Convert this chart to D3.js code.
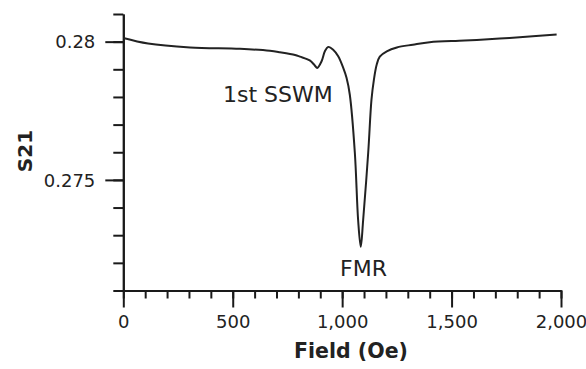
<!DOCTYPE html>
<html>
<head>
<meta charset="utf-8">
<script src="https://cdn.jsdelivr.net/npm/d3@7"></script>
<style>
  html, body { margin: 0; padding: 0; background: #fff; }
  svg { display: block; }
  text { font-family: "DejaVu Sans", Verdana, sans-serif; fill: #222; }
</style>
</head>
<body>
<svg id="chart" width="586" height="369"></svg>
<script>
// Transmission S21 versus applied field
const fieldOe = [0, 113, 305, 533, 670, 715, 785, 807, 852, 875, 886, 906, 921, 936, 959, 982,
                 1005, 1020, 1035, 1058, 1073, 1085, 1096, 1119, 1134, 1145, 1158, 1172, 1204,
                 1250, 1323, 1400, 1560, 1720, 1811, 1980];
const s21 = [0.28013, 0.27993, 0.27979, 0.27974, 0.27967, 0.27962, 0.27952, 0.27946, 0.27932,
             0.27914, 0.27905, 0.27929, 0.27965, 0.27981, 0.27971, 0.27947,
             0.27905, 0.27869, 0.27808, 0.27598, 0.27355, 0.27258, 0.27355, 0.27598, 0.27790,
             0.27862, 0.27917, 0.27946, 0.27965, 0.27979, 0.27989, 0.27998, 0.28004, 0.28011,
             0.28016, 0.28026];

const xMajorTicks = [0, 500, 1000, 1500, 2000];
const xMinorTicks = d3.range(0, 2001, 100);
const yMajorTicks = [0.275, 0.28];
const yMinorTicks = d3.range(0, 11).map(i => +(0.271 + i * 0.001).toFixed(3));

const annotations = [
  { text: "1st SSWM", x: 223, y: 102 },
  { text: "FMR", x: 340, y: 276 }
];

const svg = d3.select("#chart");

const x = d3.scaleLinear().domain([0, 2000]).range([123.3, 561]);
const y = d3.scaleLinear().domain([0.271, 0.281]).range([290.5, 14]);

const axisColor = "#1a1a1a";

// y axis: minor ticks, then labelled major ticks
const gyMinor = svg.append("g").attr("transform", `translate(${x(0)},0)`)
  .call(d3.axisLeft(y).tickValues(yMinorTicks).tickSize(10).tickSizeOuter(0).tickFormat(""));
const gyMajor = svg.append("g").attr("transform", `translate(${x(0)},0)`)
  .call(d3.axisLeft(y).tickValues(yMajorTicks).tickSize(18).tickSizeOuter(0).tickPadding(10)
    .tickFormat(d3.format("")));

// x axis: minor ticks, then labelled major ticks
const gxMinor = svg.append("g").attr("transform", `translate(0,${y(0.271)})`)
  .call(d3.axisBottom(x).tickValues(xMinorTicks).tickSize(8).tickSizeOuter(0).tickFormat(""));
const gxMajor = svg.append("g").attr("transform", `translate(0,${y(0.271)})`)
  .call(d3.axisBottom(x).tickValues(xMajorTicks).tickSize(17).tickSizeOuter(0).tickPadding(8)
    .tickFormat(d3.format(",")));

[gyMinor, gyMajor, gxMinor, gxMajor].forEach(g => {
  g.selectAll("path.domain").attr("stroke", axisColor).attr("stroke-width", 2);
  g.selectAll(".tick line").attr("stroke", axisColor).attr("stroke-width", 2);
  g.selectAll(".tick text")
    .style("font-family", '"DejaVu Sans", Verdana, sans-serif')
    .style("font-size", "18px").attr("fill", "#222");
});
gyMajor.selectAll(".tick text").attr("dy", "0.35em");

// Axis titles
svg.append("text")
  .attr("x", 351).attr("y", 358)
  .attr("text-anchor", "middle")
  .style("font-size", "20.5px").style("font-weight", "bold")
  .text("Field (Oe)");

svg.append("text")
  .attr("transform", "translate(32,151) rotate(-90)")
  .attr("text-anchor", "middle")
  .style("font-size", "20px").style("font-weight", "bold")
  .text("S21");

// Curve
const line = d3.line()
  .x((d, i) => x(fieldOe[i]))
  .y(d => y(d))
  .curve(d3.curveCatmullRom.alpha(0.5));

svg.append("path")
  .datum(s21)
  .attr("d", line)
  .attr("fill", "none")
  .attr("stroke", "#222")
  .attr("stroke-width", 2);

// Peak labels
svg.selectAll("text.note")
  .data(annotations)
  .join("text")
  .attr("class", "note")
  .attr("x", d => d.x).attr("y", d => d.y)
  .style("font-size", "22px")
  .text(d => d.text);
</script>
</body>
</html>
